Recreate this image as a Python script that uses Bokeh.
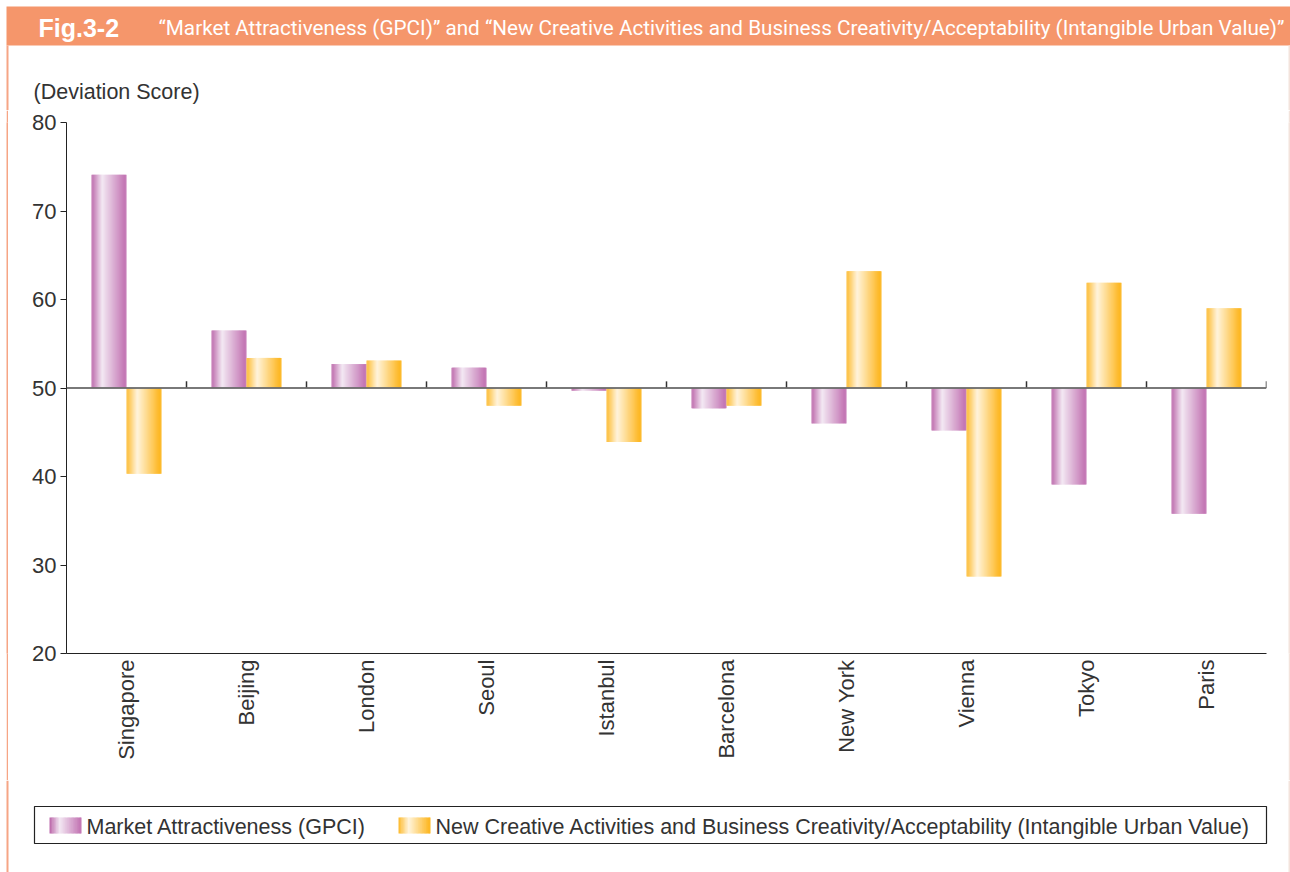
import math
from bokeh.plotting import figure
from bokeh.layouts import row, column, Spacer
from bokeh.models import Range1d, FactorRange, FixedTicker, Span, ColumnDataSource
from bokeh.transform import dodge
from bokeh.core.properties import value
from bokeh.embed import file_html
from bokeh.resources import INLINE

# ---------------- data ----------------
cities = ["Singapore", "Beijing", "London", "Seoul", "Istanbul",
          "Barcelona", "New York", "Vienna", "Tokyo", "Paris"]
market = [74.1, 56.5, 52.7, 52.3, 49.7, 47.7, 46.0, 45.2, 39.1, 35.8]
creative = [40.3, 53.4, 53.1, 48.0, 43.9, 48.0, 63.2, 28.7, 61.9, 59.0]
y_ticks = [20, 30, 40, 50, 60, 70, 80]
baseline = 50
series_names = ["Market Attractiveness (GPCI)",
                "New Creative Activities and Business Creativity/Acceptability (Intangible Urban Value)"]
fig_title = "Fig.3-2"
chart_title = ("\u201cMarket Attractiveness (GPCI)\u201d and \u201cNew Creative Activities and "
               "Business Creativity/Acceptability (Intangible Urban Value)\u201d")
y_caption = "(Deviation Score)"

# ---------------- styles ----------------
PURPLE = [(0.0, (186, 100, 168)), (0.32, (243, 232, 243)), (1.0, (192, 110, 176))]
ORANGE = [(0.0, (253, 185, 42)), (0.32, (255, 244, 220)), (1.0, (253, 179, 22))]
HEADER = "#F5966B"
EDGE = "#F6A585"
EDGE_R = "#F3E3DC"
TXT = "#333333"
FONT = "Liberation Sans"


def grad(stops, t):
    for (t0, c0), (t1, c1) in zip(stops[:-1], stops[1:]):
        if t0 <= t <= t1:
            f = (t - t0) / (t1 - t0)
            c = [round(a + (b - a) * f) for a, b in zip(c0, c1)]
            return "#%02x%02x%02x" % tuple(c)
    return "#%02x%02x%02x" % stops[-1][1]


def canvas(w, h, x0, y0, fill="white"):
    """A plain figure whose frame is the whole canvas; coordinates = page pixels."""
    f = figure(width=w, height=h, x_range=Range1d(x0, x0 + w), y_range=Range1d(y0 + h, y0),
               x_axis_type=None, y_axis_type=None, min_border=0,
               output_backend="svg", toolbar_location=None, title=None)
    f.outline_line_color = None
    f.xgrid.visible = False
    f.ygrid.visible = False
    f.background_fill_color = fill
    f.border_fill_color = fill
    return f


# ---------------- header ----------------
hdr = canvas(1290, 110, 0, 0)
hdr.quad(left=[6], right=[1290], top=[6], bottom=[45], fill_color=HEADER, line_color=None)
hdr.quad(left=[6], right=[8], top=[45], bottom=[110], fill_color=EDGE, line_color=None)
hdr.quad(left=[1288], right=[1290], top=[45], bottom=[110], fill_color=EDGE_R, line_color=None)
hdr.text(x=[38], y=[27], text=[fig_title], text_color="white", text_font=value(FONT),
         text_font_size="25px", text_font_style="bold", text_baseline="middle")
hdr.text(x=[158], y=[27], text=[chart_title], text_color="white",
         text_font=value("Roboto"), text_font_size="20.7px", text_baseline="middle")
hdr.text(x=[33], y=[91], text=[y_caption], text_color=TXT, text_font=value(FONT),
         text_font_size="21.5px", text_baseline="middle")

# ---------------- main chart ----------------
FW, FH = 1200, 531
p = figure(x_range=FactorRange(factors=cities), y_range=Range1d(y_ticks[0], y_ticks[-1]),
           frame_width=FW, frame_height=FH,
           min_border_left=58, min_border_right=22, min_border_top=12, min_border_bottom=127,
           output_backend="svg", toolbar_location=None, title=None,
           background_fill_color="white", border_fill_color="white")
p.outline_line_color = None
p.xgrid.visible = False
p.ygrid.visible = False

src = ColumnDataSource(dict(city=cities, market=market, creative=creative))

BAR_W = 35 / 120
N = 30
for field, stops, start in [("market", PURPLE, -BAR_W), ("creative", ORANGE, 0.0)]:
    for i in range(N):
        t = (i + 0.5) / N
        p.vbar(x=dodge("city", start + t * BAR_W, range=p.x_range), top=field, bottom=baseline,
               width=BAR_W / N * (1.0 if i in (0, N - 1) else 1.8), source=src,
               fill_color=grad(stops, t), line_color=None)

p.add_layout(Span(location=baseline, dimension="width", line_color="#6a6a6a",
                  line_width=2, line_alpha=0.9))
p.segment(x0=dodge("city", 0.5, range=p.x_range), y0=baseline,
          x1=dodge("city", 0.5, range=p.x_range), y1=baseline + 0.75,
          source=src, line_color="#333333", line_width=1.5)

yax = p.yaxis[0]
yax.ticker = FixedTicker(ticks=y_ticks)
yax.major_tick_out = 6
yax.major_tick_in = 0
yax.minor_tick_line_color = None
yax.axis_line_color = "#222222"
yax.major_tick_line_color = "#222222"
yax.major_label_text_font = FONT
yax.major_label_text_font_size = "22px"
yax.major_label_text_color = TXT
yax.major_label_standoff = 4

xax = p.xaxis[0]
xax.major_tick_line_color = None
xax.major_tick_out = 0
xax.axis_line_color = "#222222"
xax.major_label_orientation = math.pi / 2
xax.major_label_standoff = 6
xax.major_label_text_font = FONT
xax.major_label_text_font_size = "22px"
xax.major_label_text_color = TXT

# ---------------- footer with legend ----------------
ftr = canvas(1290, 92, 0, 780)
ftr.quad(left=[6], right=[8], top=[780], bottom=[872], fill_color=EDGE, line_color=None)
ftr.quad(left=[1288], right=[1290], top=[780], bottom=[872], fill_color=EDGE_R, line_color=None)
ftr.quad(left=[34], right=[1266], top=[806], bottom=[843], fill_color="white",
         line_color="#222222", line_width=1.2)
SW = 32
M = 24
for sx, stops in [(49, PURPLE), (398, ORANGE)]:
    lefts = [sx + i * SW / M for i in range(M)]
    rights = [sx + (i + 1) * SW / M + (0.6 if i < M - 1 else 0) for i in range(M)]
    cols = [grad(stops, (i + 0.5) / M) for i in range(M)]
    ftr.quad(left=lefts, right=rights, top=[817] * M, bottom=[833] * M,
             fill_color=cols, line_color=None)
ftr.text(x=[86, 435], y=[826, 826], text=series_names, text_color=TXT,
         text_font=value(FONT), text_font_size="21.5px", text_baseline="middle")

# ---------------- side edge lines beside the chart (solid-filled thin figures) ----------------
edge_l = canvas(2, 670, 6, 110, fill=EDGE)
edge_r = canvas(2, 670, 1288, 110, fill=EDGE_R)

layout = column(hdr, row(Spacer(width=6, height=670), edge_l, p, edge_r), ftr)
open("out.html", "w").write(file_html(layout, INLINE))
